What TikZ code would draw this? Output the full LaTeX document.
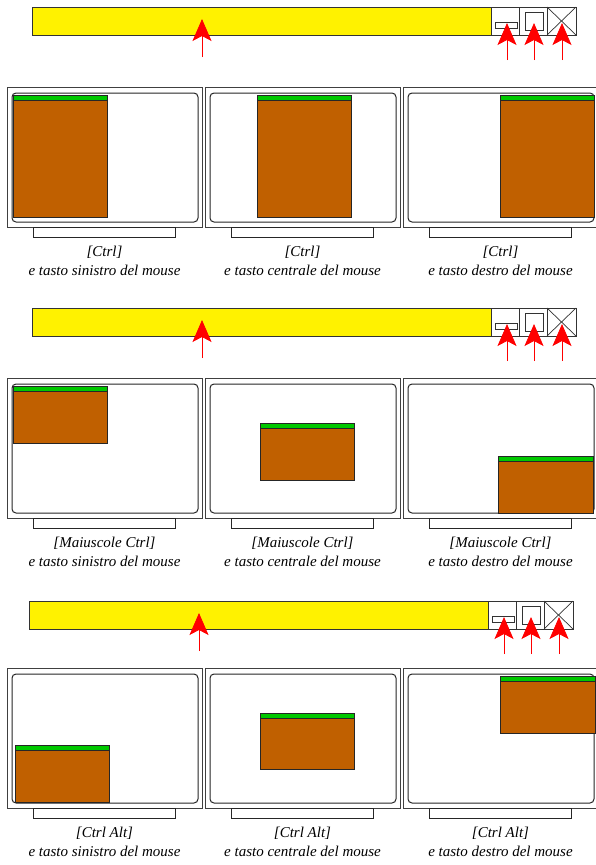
\documentclass[tikz,border=0pt]{standalone}
\usepackage{fontspec}
\setmainfont{Liberation Serif}
\usetikzlibrary{arrows.meta}
\definecolor{winbrown}{RGB}{192,96,0}
\definecolor{wingreen}{RGB}{0,200,0}
\tikzset{
  barbox/.style={draw=black!80, line width=1pt, fill=yellow},
  btnbox/.style={draw=black!80, line width=1pt, fill=white},
  icon/.style={draw=black!80, line width=0.9pt},
  redarrow/.style={draw=red, line width=0.8pt, -{Stealth[length=22pt, width=19pt, inset=5pt]}},
  outerframe/.style={draw=black!75, line width=1pt, fill=white},
  screen/.style={draw=black!85, line width=1pt, rounded corners=4pt},
  standbox/.style={draw=black!85, line width=0.9pt, fill=white},
  winbody/.style={draw=black!85, line width=0.9pt, fill=winbrown},
  wintitle/.style={draw=black!85, line width=0.9pt, fill=wingreen},
  caption/.style={font=\fontsize{15}{18.5}\selectfont\itshape, align=center, inner sep=0pt}
}
\begin{document}
\begin{tikzpicture}[x=1pt, y=-1pt]
\useasboundingbox (0,0) rectangle (596,865);
% title bars
\foreach \bx/\by/\r in {32/7/1, 32/308/2, 29/601/3}{
  \path[barbox] (\bx,\by) rectangle ++(459,28);
  \path[btnbox] (\bx+459,\by) rectangle ++(28,28);
  \path[btnbox] (\bx+487,\by) rectangle ++(28,28);
  \path[btnbox] (\bx+515,\by) rectangle ++(29,28);
  \draw[icon] (\bx+463,\by+15) rectangle ++(22,6);
  \draw[icon] (\bx+493,\by+5) rectangle ++(18,18);
  \draw[icon, line width=0.7pt] (\bx+515,\by) -- ++(29,28) (\bx+544,\by) -- ++(-29,28);
  \coordinate (m\r a) at (\bx+170,\by+50);
  \coordinate (m\r b) at (\bx+170,\by+12);
  \draw[redarrow] (m\r a) -- (m\r b);
  \foreach \ax in {475,502,530}{
    \draw[redarrow] (\bx+\ax,\by+53) -- (\bx+\ax,\by+16);
  }
}
% monitors
\foreach \my in {87,378,668}{
  \foreach \mx in {7,205,403}{
    \path[outerframe] (\mx,\my) rectangle ++(195,140);
    \draw[screen] (\mx+5,\my+6) rectangle (\mx+191,\my+135);
    \path[standbox] (\mx+26,\my+140) rectangle (\mx+168,\my+150);
  }
}
% windows
\foreach \wa/\wb/\wc/\wd in {13/95/107/217, 257/95/351/217, 500/95/594/217,
  13/386/107/443, 260/423/354/480, 498/456/593/513,
  15/745/109/802, 260/713/354/769, 500/676/595/733}{
  \path[winbody] (\wa,\wb) rectangle (\wc,\wd);
  \path[wintitle] (\wa,\wb) rectangle (\wc,\wb+5);
}
% captions
\foreach \cy/\key in {227/{[Ctrl]}, 518/{[Maiuscole Ctrl]}, 808/{[Ctrl Alt]}}{
  \node[caption] (c1) at (104.5,\cy+34) {\key\\e tasto sinistro del mouse};
  \node[caption] (c2) at (302.5,\cy+34) {\key\\e tasto centrale del mouse};
  \node[caption] (c3) at (500.5,\cy+34) {\key\\e tasto destro del mouse};
}
\end{tikzpicture}
\end{document}
